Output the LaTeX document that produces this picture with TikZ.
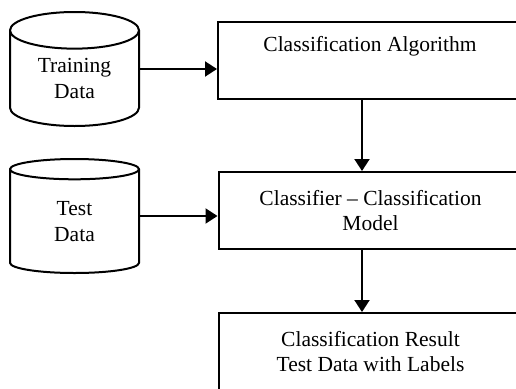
\documentclass[tikz,border=0pt]{standalone}
\usepackage{fontspec}
\setmainfont{Liberation Serif}
\usepackage{tikz}
\usetikzlibrary{
  % cylinder shape for the data stores
  shapes.geometric,%
  arrows.meta,%
  positioning,%
  calc
}
\tikzset{>={Triangle[length=12pt,width=15pt]}}
\tikzset{font=\fontsize{21.5}{25.5}\selectfont}
\tikzset{datastore/.style={cylinder, shape border rotate=90, aspect=0.5,
    draw, line width=2pt, minimum width=129pt, minimum height=114pt,
    align=center, inner sep=0pt, anchor=shape center}}
\tikzset{stagebox/.style={rectangle, draw, line width=2pt,
    minimum width=304pt, minimum height=77pt, align=center}}

\begin{document}
\begin{tikzpicture}[x=1pt,y=-1pt]
          \clip (0,0) rectangle (516,388);
          \node[datastore] (train) at (74.5,69) {Training\\Data};
          \node[datastore] (test) at (74.5,216) {Test\\Data};
          \node[stagebox] (algo) at (370,60.5) {Classification Algorithm\\ \strut};
          \node[stagebox] (model) at (370.5,210.5) {Classifier -- Classification\\Model};
          \node[stagebox] (result) at (370.5,351.5) {Classification Result\\Test Data with Labels};
          % data into the stages
          \draw[->, line width=2pt] (train.shape center -| train.east) -- (train.shape center -| algo.west);
          \draw[->, line width=2pt] (test.shape center -| test.east) -- (test.shape center -| model.west);
          \draw[->, line width=2pt] (algo.south -| 362,0) -- (model.north -| 362,0);
          \draw[->, line width=2pt] (model.south -| 362,0) -- (result.north -| 362,0);
        \end{tikzpicture}
\end{document}
